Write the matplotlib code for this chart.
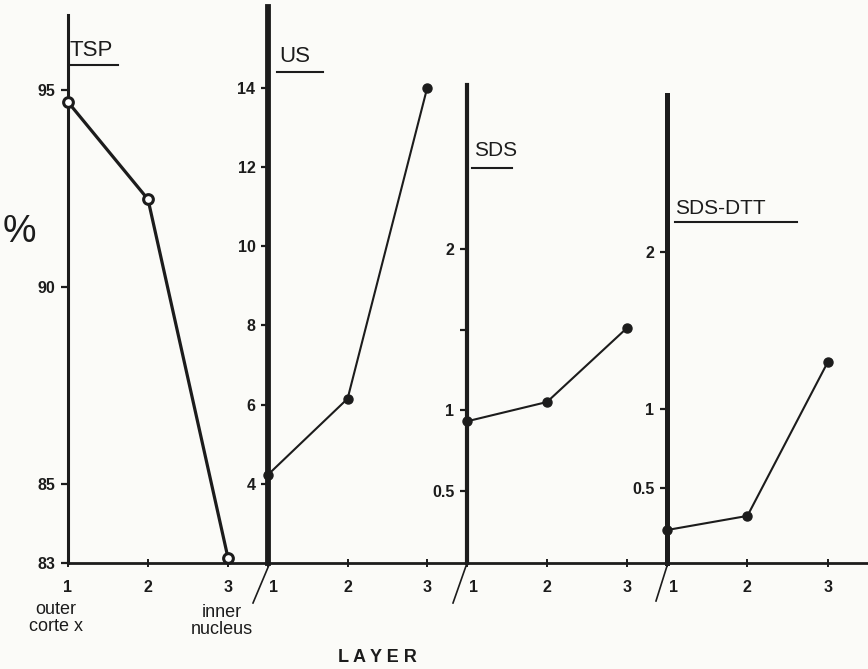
import matplotlib
matplotlib.use("Agg")
import matplotlib.pyplot as plt
from matplotlib.lines import Line2D
from matplotlib.transforms import ScaledTranslation

plt.rcParams['font.family'] = ['Liberation Sans', 'DejaVu Sans']

# data
layers = [1, 2, 3]
tsp = [94.7, 92.23, 83.13]
us = [4.23, 6.15, 14.0]
sds = [0.93, 1.05, 1.51]
sds_dtt = [0.23, 0.32, 1.30]

titles = ["TSP", "US", "SDS", "SDS-DTT"]
yticks = [[83, 85, 90, 95], [4, 6, 8, 10, 12, 14], [0.5, 1, 1.5, 2], [0.5, 1, 2]]
ytick_labels = [["83", "85", "90", "95"], ["4", "6", "8", "10", "12", "14"],
                ["0.5", "1", "", "2"], ["0.5", "1", "2"]]
series = [tsp, us, sds, sds_dtt]

W, H = 868, 669
ink = "#1c1c1c"
bg = "#fbfbf8"

# layout (pixels)
lefts = [68, 268, 467, 667]
rights = lefts[1:] + [868]
base_y, top_y = 563, 8
ybottom = [83, 2, 0.05, 0.02]
ppu = [39.4, 39.6, 161, 157]
spine_top = [96.9, 16.05, 3.02, 3.0]
spine_w = [2.2, 4.2, 3.0, 3.6]
title_xy = [(70, 50), (279, 57), (474, 151), (675, 208)]
title_fs = [16, 16, 15, 15]
under = [(70, 118, 65), (277, 323, 72), (472, 512, 168), (675, 797, 222)]


def fx(x):
    return x / W


def fy(y):
    return 1 - y / H


fig = plt.figure(figsize=(W / 100, H / 100), dpi=100, facecolor=bg)

for i in range(4):
    ax = fig.add_axes([fx(lefts[i]), fy(base_y), (rights[i] - lefts[i]) / W,
                       (base_y - top_y) / H])
    ax.set_facecolor("none")
    ax.set_xlim(1, 3.5)
    ax.set_ylim(ybottom[i], ybottom[i] + (base_y - top_y) / ppu[i])
    for s in ["top", "right"]:
        ax.spines[s].set_visible(False)
    ax.spines["left"].set_linewidth(spine_w[i])
    ax.spines["left"].set_color(ink)
    ax.spines["left"].set_bounds(ybottom[i], spine_top[i])
    ax.spines["bottom"].set_linewidth(2.0)
    ax.spines["bottom"].set_color(ink)
    ax.spines["bottom"].set_bounds(1, 3.5)

    ax.set_yticks(yticks[i])
    ax.set_yticklabels(ytick_labels[i], fontweight="bold")
    ax.set_xticks(layers)
    ax.set_xticklabels([str(l) for l in layers], fontweight="bold")
    ax.tick_params(axis="y", direction="out", length=5, width=1.6, pad=4,
                   labelsize=11.5, colors=ink)
    ax.tick_params(axis="x", direction="inout", length=6, width=1.4, pad=9,
                   labelsize=11.5, colors=ink)
    if i > 0:
        lab = ax.get_xticklabels()[0]
        lab.set_transform(lab.get_transform() +
                          ScaledTranslation(6 / 100, 0, fig.dpi_scale_trans))

    if i == 0:
        ax.plot(layers, series[i], color=ink, lw=2.3, marker="o", ms=7,
                mfc="white", mec=ink, mew=2.2, clip_on=False, zorder=5)
    else:
        ax.plot(layers, series[i], color=ink, lw=1.5, marker="o", ms=6.5,
                mfc=ink, mec=ink, clip_on=False, zorder=5)

    tx, ty = title_xy[i]
    fig.text(fx(tx), fy(ty), titles[i], fontsize=title_fs[i], color=ink,
             ha="left", va="center")
    x0, x1, yu = under[i]
    fig.add_artist(Line2D([fx(x0), fx(x1)], [fy(yu), fy(yu)], color=ink, lw=1.5))

# slanted marks below the first tick of panels 2-4
for (xa, ya, xb, yb) in [(269, 565, 253, 603), (466, 566, 453, 603), (667, 566, 656, 601)]:
    fig.add_artist(Line2D([fx(xa), fx(xb)], [fy(ya), fy(yb)], color=ink, lw=1.2))

fig.text(fx(56), fy(618), "outer\ncorte x", fontsize=13, color=ink,
         ha="center", va="center", linespacing=1.0)
fig.text(fx(222), fy(621), "inner\nnucleus", fontsize=13, color=ink,
         ha="center", va="center", linespacing=1.0)
fig.text(fx(19), fy(232), "%", fontsize=27, color=ink, ha="center", va="center")
fig.text(fx(377), fy(657), "L A Y E R", fontsize=13, fontweight="bold",
         color=ink, ha="center", va="center")

fig.savefig("out.png", dpi=100, facecolor=bg)
